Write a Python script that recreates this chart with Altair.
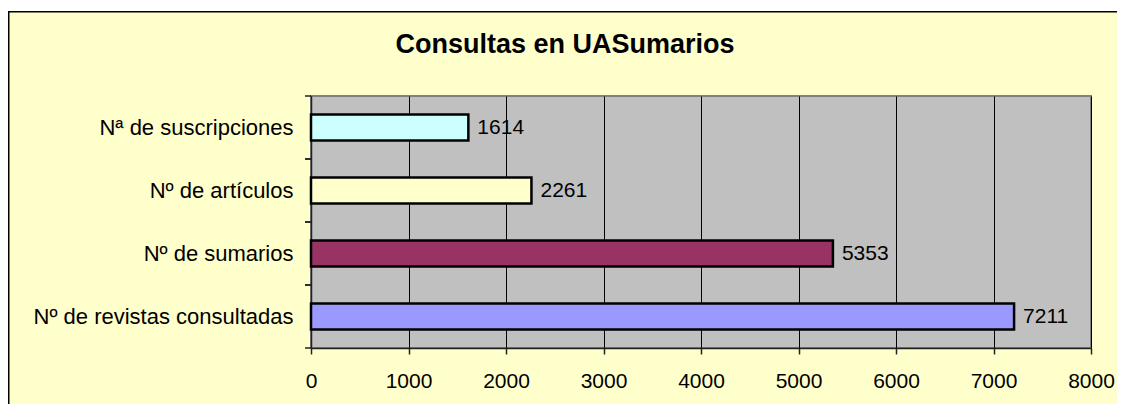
import altair as alt
import pandas as pd

categories = ["Nª de suscripciones", "Nº de artículos", "Nº de sumarios", "Nº de revistas consultadas"]
values = [1614, 2261, 5353, 7211]
bar_colors = ["#CCFFFF", "#FFFFCC", "#993366", "#9999FF"]
x_ticks = [0, 1000, 2000, 3000, 4000, 5000, 6000, 7000, 8000]
title_text = "Consultas en UASumarios"

df = pd.DataFrame({"cat": categories, "val": values})
one = pd.DataFrame({"t": [title_text]})

W, H = 780, 252
FONT = "Liberation Sans"
AX = "#222222"

yscale = alt.Scale(paddingInner=0, paddingOuter=0)

yenc = alt.Y(
    "cat:N", sort=categories, scale=yscale,
    axis=alt.Axis(title=None, ticks=False, tickSize=0, labelPadding=18, labelFontSize=22,
                  labelColor="#000000", domainColor=AX, domainWidth=1.5, labelFont=FONT,
                  labelLimit=400),
)
xenc = alt.X(
    "val:Q", scale=alt.Scale(domain=[0, 8000], nice=False),
    axis=alt.Axis(title=None, values=x_ticks, grid=True, gridColor="#000000", gridWidth=1,
                  tickSize=6, tickColor=AX, tickWidth=1.5, domainColor=AX, domainWidth=1.5,
                  labelFontSize=21, labelPadding=16, labelFont=FONT, labelColor="#000000",
                  format="d", labelFlush=False, labelOverlap=False),
)

bars = alt.Chart(df).mark_bar(height={"band": 0.41}, stroke="black", strokeWidth=2.5).encode(
    x=xenc, y=yenc,
    color=alt.Color("cat:N", scale=alt.Scale(domain=categories, range=bar_colors), legend=None),
)

labels = alt.Chart(df).mark_text(align="left", dx=9, fontSize=21, font=FONT, color="black").encode(
    x="val:Q", y=alt.Y("cat:N", sort=categories), text="val:Q"
)

ticks_top = alt.Chart(df).mark_rule(color=AX, strokeWidth=1.5).encode(
    y=alt.Y("cat:N", sort=categories, bandPosition=0), x=alt.value(-6), x2=alt.value(0)
)
ticks_bot = alt.Chart(df).mark_rule(color=AX, strokeWidth=1.5).encode(
    y=alt.Y("cat:N", sort=categories, bandPosition=1), x=alt.value(-6), x2=alt.value(0)
)

white_strip = alt.Chart(one).mark_rect(fill="white").encode(
    x=alt.value(-310), x2=alt.value(900), y=alt.value(-95), y2=alt.value(-85)
)
border_left = alt.Chart(one).mark_rule(color="black", strokeWidth=1.5).encode(
    x=alt.value(-302.25), y=alt.value(-85), y2=alt.value(400)
)
border_top = alt.Chart(one).mark_rule(color="black", strokeWidth=1.5).encode(
    y=alt.value(-84.25), x=alt.value(-303), x2=alt.value(900)
)
title = alt.Chart(one).mark_text(fontSize=27, fontWeight="bold", font=FONT, color="black",
                                 align="center", baseline="alphabetic").encode(
    x=alt.value(254), y=alt.value(-43), text="t:N"
)

chart = alt.layer(white_strip, border_left, border_top, title, bars, labels, ticks_top, ticks_bot).properties(
    width=W, height=H,
    autosize=alt.AutoSizeParams(type="none"),
    padding={"left": 303, "top": 88, "right": 26, "bottom": 56},
    background="#FFFFCC",
).configure_view(fill="#C0C0C0", stroke="#808080", strokeWidth=2)

chart.save("out.html", embed_options={"renderer": "svg", "actions": False})
